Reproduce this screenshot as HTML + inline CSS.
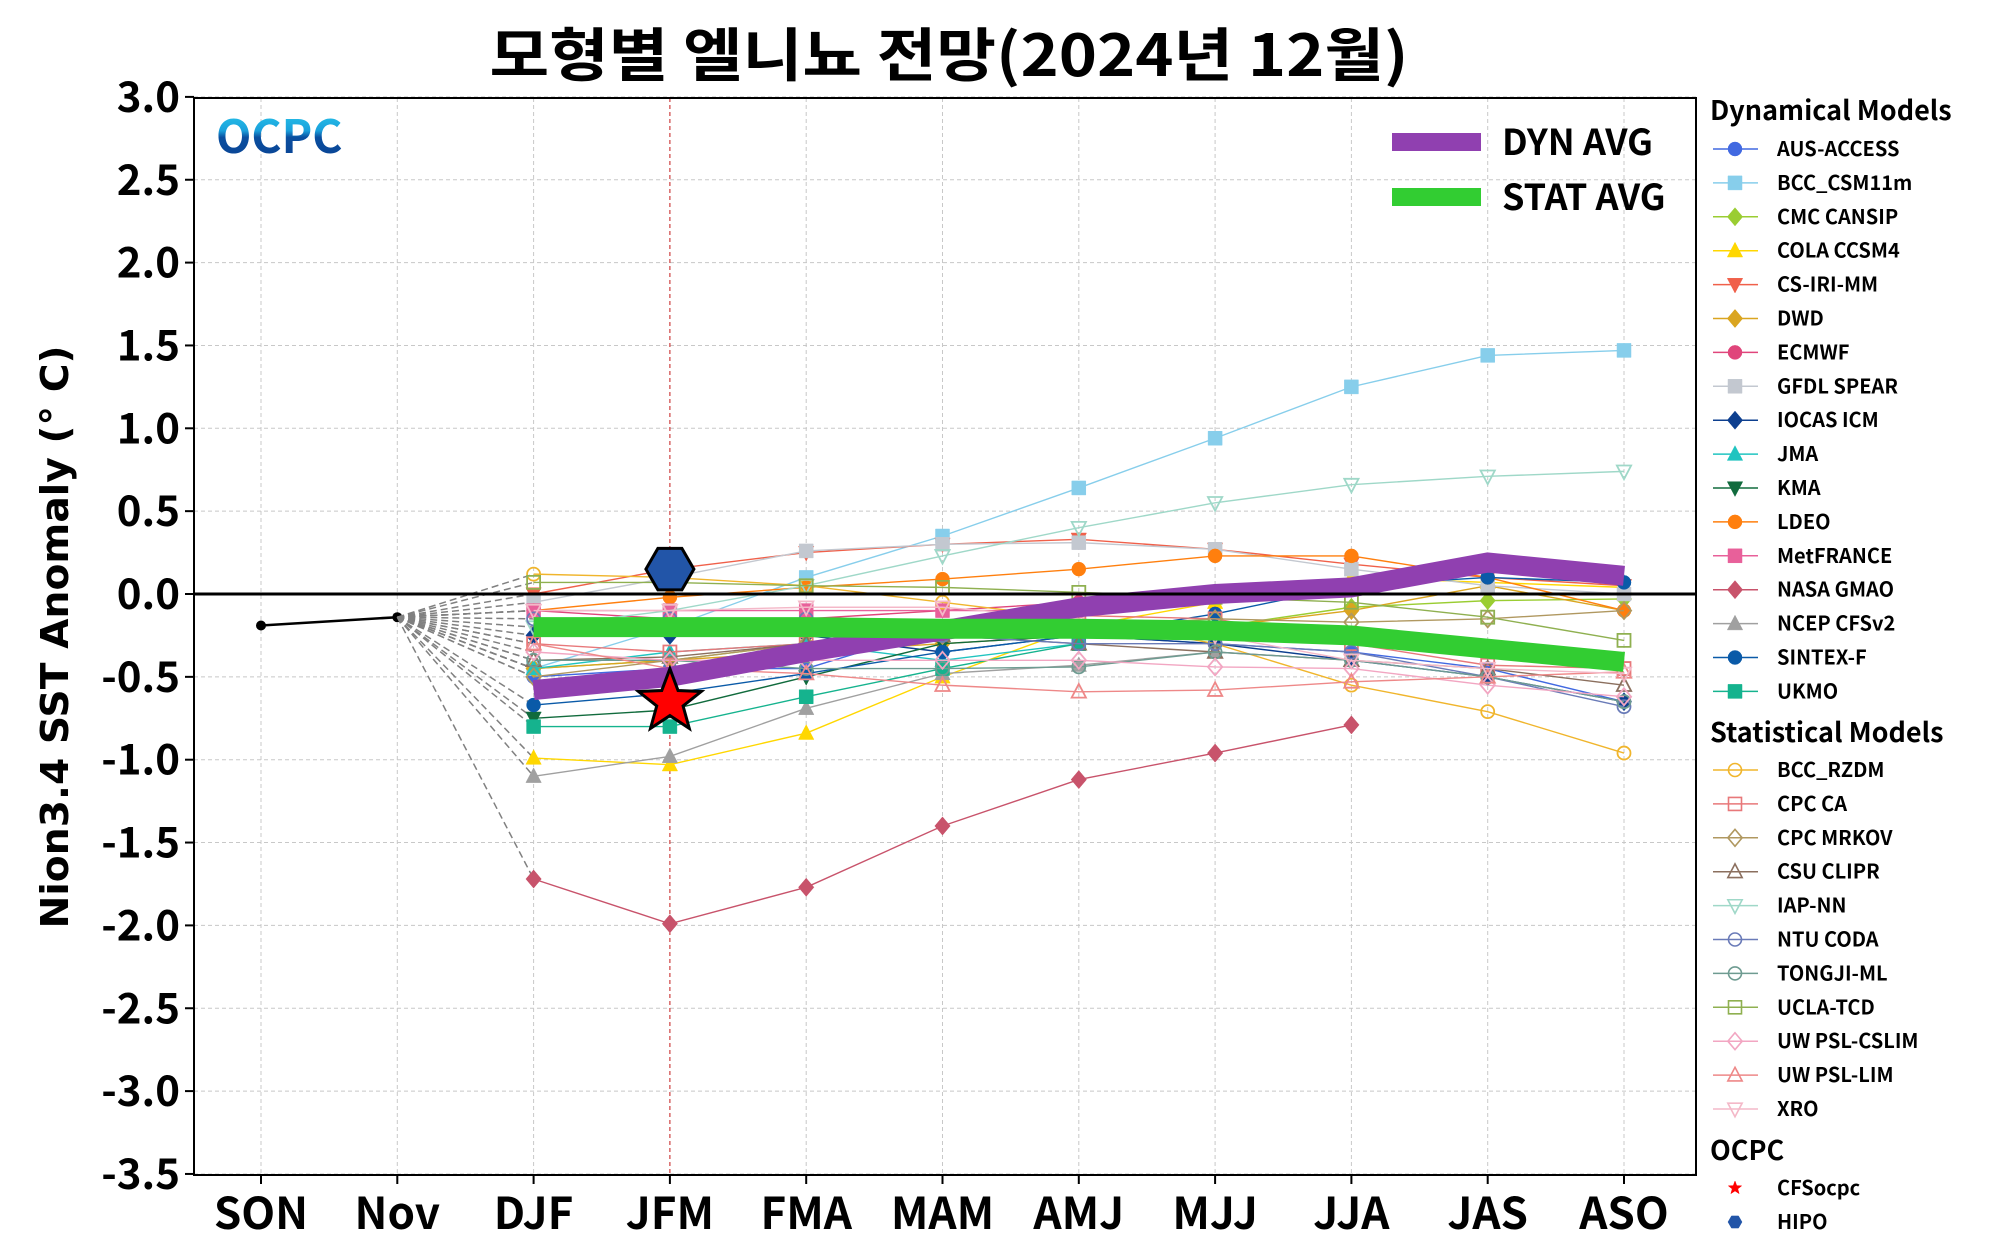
<!DOCTYPE html>
<html><head><meta charset="utf-8"><style>
html,body{margin:0;padding:0;background:#fff;}
svg{display:block;font-family:"Noto Sans CJK KR","Liberation Sans",sans-serif;}
</style></head><body>
<svg id="chart" width="2000" height="1253" viewBox="0 0 2000 1253" xmlns="http://www.w3.org/2000/svg">
<defs>
<linearGradient id="logoGrad" x1="0" y1="0" x2="0" y2="1">
<stop offset="0" stop-color="#30d8f0"/><stop offset="0.45" stop-color="#1aa0dc"/><stop offset="0.55" stop-color="#0a4fa0"/><stop offset="1" stop-color="#0a3f8f"/>
</linearGradient>
</defs>
<text x="949" y="76" text-anchor="middle" font-size="58" font-weight="bold" textLength="919" lengthAdjust="spacingAndGlyphs">모형별 엘니뇨 전망(2024년 12월)</text>
<text transform="translate(68,637) rotate(-90)" text-anchor="middle" font-size="38" font-weight="bold" font-family="DejaVu Sans, sans-serif" textLength="583" lengthAdjust="spacingAndGlyphs">Nion3.4 SST Anomaly (° C)</text>
<g id="grid"></g>
<g id="plot"></g>
<rect x="194" y="98" width="1502" height="1077" fill="none" stroke="#000" stroke-width="2"/>
<g id="axes"></g>
<text x="216" y="153" font-size="46" font-weight="bold" fill="url(#logoGrad)">OCPC</text>
<g id="avg-legend"></g>
<g id="legend"></g>
</svg>
<script>
const seasons = ["SON","Nov","DJF","JFM","FMA","MAM","AMJ","MJJ","JJA","JAS","ASO"];
const yTicks = [3.0,2.5,2.0,1.5,1.0,0.5,0.0,-0.5,-1.0,-1.5,-2.0,-2.5,-3.0,-3.5];
const observed = [-0.19,-0.14];
const dynNames = ["AUS-ACCESS","BCC_CSM11m","CMC CANSIP","COLA CCSM4","CS-IRI-MM","DWD","ECMWF","GFDL SPEAR","IOCAS ICM","JMA","KMA","LDEO","MetFRANCE","NASA GMAO","NCEP CFSv2","SINTEX-F","UKMO"];
const ausAccess = [-0.5,-0.45,-0.45,-0.2,-0.25,-0.3,-0.35,-0.45,-0.65];
const bccCsm = [-0.45,-0.2,0.1,0.35,0.64,0.94,1.25,1.44,1.47];
const cmcCansip = [-0.45,-0.4,-0.3,-0.25,-0.2,-0.2,-0.08,-0.04,-0.03];
const colaCcsm4 = [-0.99,-1.03,-0.84,-0.5,-0.2,-0.05,0.1,0.07,0.04];
const csIriMm = [0.0,0.15,0.25,0.3,0.33,0.27,0.18,0.1,0.05];
const dwd = [-0.45,-0.4,-0.35,-0.3,-0.25,-0.2,-0.1,0.05,-0.1];
const ecmwf = [-0.1,-0.15,-0.15,-0.1,-0.05,null,null,null,null];
const gfdlSpear = [-0.05,0.1,0.26,0.3,0.31,0.27,0.15,0.05,0.0];
const iocasIcm = [-0.25,-0.25,-0.25,-0.35,-0.25,-0.3,-0.4,-0.5,-0.65];
const jma = [-0.45,-0.35,-0.3,-0.4,-0.3,null,null,null,null];
const kma = [-0.75,-0.7,-0.5,-0.3,-0.25,-0.2,null,null,null];
const ldeo = [-0.1,-0.02,0.04,0.09,0.15,0.23,0.23,0.1,-0.1];
const metFrance = [-0.1,-0.1,-0.1,-0.1,-0.1,null,null,null,null];
const nasaGmao = [-1.72,-1.99,-1.77,-1.4,-1.12,-0.96,-0.79,null,null];
const ncepCfs = [-1.1,-0.98,-0.69,-0.48,-0.43,-0.35,null,null,null];
const sintexF = [-0.67,-0.6,-0.48,-0.35,-0.25,-0.12,0.05,0.1,0.07];
const ukmo = [-0.8,-0.8,-0.62,-0.45,-0.3,null,null,null,null];
const statNames = ["BCC_RZDM","CPC CA","CPC MRKOV","CSU CLIPR","IAP-NN","NTU CODA","TONGJI-ML","UCLA-TCD","UW PSL-CSLIM","UW PSL-LIM","XRO"];
const bccRzdm = [0.12,0.1,0.05,-0.05,-0.15,-0.3,-0.55,-0.71,-0.96];
const cpcCa = [-0.3,-0.35,-0.3,-0.2,-0.13,-0.15,-0.3,-0.43,-0.45];
const cpcMrkov = [-0.5,-0.4,-0.3,-0.25,-0.2,-0.15,-0.17,-0.15,-0.1];
const csuClipr = [-0.4,-0.38,-0.3,-0.25,-0.3,-0.35,-0.4,-0.45,-0.55];
const iapNn = [-0.2,-0.1,0.05,0.23,0.4,0.55,0.66,0.71,0.74];
const ntuCoda = [-0.15,-0.15,-0.15,-0.25,-0.3,-0.3,-0.35,-0.5,-0.68];
const tongjiMl = [-0.4,-0.4,-0.45,-0.45,-0.44,-0.35,-0.4,-0.5,-0.65];
const uclaTcd = [0.07,0.07,0.05,0.04,0.01,-0.02,-0.05,-0.14,-0.28];
const uwCslim = [-0.35,-0.4,-0.4,-0.4,-0.4,-0.44,-0.45,-0.55,-0.62];
const uwLim = [-0.3,-0.45,-0.48,-0.55,-0.59,-0.58,-0.53,-0.5,-0.47];
const xro = [-0.1,-0.1,-0.08,-0.08,-0.15,-0.25,-0.4,-0.45,-0.48];
const dynAvg = [-0.58,-0.5,-0.35,-0.22,-0.08,0.0,0.04,0.19,0.11];
const statAvg = [-0.2,-0.2,-0.2,-0.21,-0.21,-0.22,-0.25,-0.33,-0.41];
const cfsOcpc = [-0.65];
const hipo = [0.15];

const NS="http://www.w3.org/2000/svg";
function xS(i){return 261+i*136.3;}
function yS(v){return 594-v*165.7;}
function mk(tag,attrs,parent){const e=document.createElementNS(NS,tag);for(const k in attrs)e.setAttribute(k,attrs[k]);parent.appendChild(e);return e;}
const grid=document.getElementById('grid'),plot=document.getElementById('plot'),axes=document.getElementById('axes');

seasons.forEach((s,i)=>{
  const g=mk('line',{x1:xS(i),x2:xS(i),y1:98,y2:1175,stroke:'#c8c8c8','stroke-width':1,'stroke-dasharray':'4,3'},grid);
  
  
  const t=mk('line',{x1:xS(i),x2:xS(i),y1:1175,y2:1184,stroke:'#000','stroke-width':2},axes);
  
  
  const l=mk('text',{x:xS(i),y:1229,'text-anchor':'middle','font-size':44,'font-weight':'bold'},axes);
  l.textContent=s;
  
  
});
yTicks.forEach(v=>{
  const g=mk('line',{x1:194,x2:1696,y1:yS(v),y2:yS(v),stroke:'#c8c8c8','stroke-width':1,'stroke-dasharray':'4,3'},grid);
  
  
  const t=mk('line',{x1:185,x2:194,y1:yS(v),y2:yS(v),stroke:'#000','stroke-width':2},axes);
  
  
  const l=mk('text',{x:180,y:yS(v)+15,'text-anchor':'end','font-size':42,'font-weight':'bold'},axes);
  l.textContent=v.toFixed(1);
  
  
});
const jl=mk('line',{x1:xS(3),x2:xS(3),y1:98,y2:1175,stroke:'#cc2222','stroke-width':1,'stroke-dasharray':'4,3'},grid);



function marker(shape,cx,cy,r,fill,stroke,sw,parent){
  let e;
  if(shape==='o') e=mk('circle',{cx:cx,cy:cy,r:r},parent);
  else {
    let pts;
    if(shape==='s') pts=[[-r,-r],[r,-r],[r,r],[-r,r]];
    else if(shape==='D') pts=[[0,-r*1.3],[r*1.1,0],[0,r*1.3],[-r*1.1,0]];
    else if(shape==='^') pts=[[0,-r*1.2],[r*1.1,r*0.9],[-r*1.1,r*0.9]];
    else if(shape==='v') pts=[[0,r*1.2],[r*1.1,-r*0.9],[-r*1.1,-r*0.9]];
    else if(shape==='h'){pts=[];for(let k=0;k<6;k++){const a=Math.PI/3*k;pts.push([r*Math.cos(a),r*Math.sin(a)]);}}
    else if(shape==='*'){pts=[];for(let k=0;k<10;k++){const a=-Math.PI/2+Math.PI/5*k;const rr=k%2?r*0.42:r;pts.push([rr*Math.cos(a),rr*Math.sin(a)]);}}
    e=mk('polygon',{points:pts.map(p=>(cx+p[0])+','+(cy+p[1])).join(' ')},parent);
  }
  e.setAttribute('fill',fill);e.setAttribute('stroke',stroke);e.setAttribute('stroke-width',sw);
  return e;
}

const dynSeries=[
 [ausAccess,'#4169e1','o'],[bccCsm,'#87ceeb','s'],[cmcCansip,'#9acd32','D'],[colaCcsm4,'#ffd700','^'],
 [csIriMm,'#f0604a','v'],[dwd,'#daa520','D'],[ecmwf,'#e0457b','o'],[gfdlSpear,'#c3c8d0','s'],
 [iocasIcm,'#0d3f8f','D'],[jma,'#20c4c0','^'],[kma,'#116b3d','v'],[ldeo,'#ff7f0e','o'],
 [metFrance,'#e8609a','s'],[nasaGmao,'#c8536b','D'],[ncepCfs,'#a0a0a0','^'],[sintexF,'#0a5aa8','o'],[ukmo,'#15b38e','s']];
const statSeries=[
 [bccRzdm,'#f0b52c','o'],[cpcCa,'#e8787a','s'],[cpcMrkov,'#b09860','D'],[csuClipr,'#8b6f5e','^'],
 [iapNn,'#9fd8c8','v'],[ntuCoda,'#6a7bb8','o'],[tongjiMl,'#6e9b91','o'],[uclaTcd,'#8fb050','s'],
 [uwCslim,'#f2a6c2','D'],[uwLim,'#ee8888','^'],[xro,'#f4b8c8','v']];

const ob=mk('polyline',{points:observed.map((v,i)=>xS(i)+','+yS(v)).join(' '),fill:'none',stroke:'#000','stroke-width':2.5},plot);


observed.forEach((v,i)=>{const c=mk('circle',{cx:xS(i),cy:yS(v),r:5,fill:'#000'},plot);

});

[...dynSeries,...statSeries].forEach(s=>{
  if(s[0][0]==null)return;
  const d=mk('line',{x1:xS(1),y1:yS(observed[1]),x2:xS(2),y2:yS(s[0][0]),stroke:'#808080','stroke-width':1.5,'stroke-dasharray':'7,4'},plot);
  
  
});

function drawSeries(arr,color,shape,open,name){
  const pts=[];arr.forEach((v,i)=>{if(v!=null)pts.push(xS(i+2)+','+yS(v));});
  const p=mk('polyline',{points:pts.join(' '),fill:'none',stroke:color,'stroke-width':1.4},plot);
  
  
  arr.forEach((v,i)=>{if(v==null)return;
    const m=marker(shape,xS(i+2),yS(v),open?6.5:7,open?'none':color,color,open?1.8:0.5,plot);
    
    });
}
dynSeries.forEach((s,k)=>drawSeries(s[0],s[1],s[2],false,dynNames[k].toLowerCase().replace(/[^a-z0-9]+/g,'-')));
statSeries.forEach((s,k)=>drawSeries(s[0],s[1],s[2],true,statNames[k].toLowerCase().replace(/[^a-z0-9]+/g,'-')));

const dl=mk('polyline',{points:dynAvg.map((v,i)=>xS(i+2)+','+yS(v)).join(' '),fill:'none',stroke:'#9040b0','stroke-width':20},plot);


const sl=mk('polyline',{points:statAvg.map((v,i)=>xS(i+2)+','+yS(v)).join(' '),fill:'none',stroke:'#32cd32','stroke-width':20},plot);



const zl=mk('line',{x1:194,x2:1696,y1:yS(0),y2:yS(0),stroke:'#000','stroke-width':3},plot);



const hx=marker('h',xS(3),yS(hipo[0]),24,'#2255a8','#000',3,plot);


const st=marker('*',xS(3),yS(cfsOcpc[0]),33,'#ff0000','#000',3,plot);



const al=document.getElementById('avg-legend');
[['DYN AVG','#9040b0',142],['STAT AVG','#32cd32',197]].forEach(a=>{
  const l=mk('line',{x1:1392,x2:1481,y1:a[2],y2:a[2],stroke:a[1],'stroke-width':18},al);
  
  
  const t=mk('text',{x:1502,y:a[2]+13,'font-size':36,'font-weight':'bold'},al);
  t.textContent=a[0];
  
  
});

const lg=document.getElementById('legend');
function title(txt,y){const t=mk('text',{x:1710,y:y,'font-size':27,'font-weight':'bold'},lg);t.textContent=txt;

}
function entry(txt,y,color,shape,open,noline){
  if(!noline){const l=mk('line',{x1:1713,x2:1758,y1:y,y2:y,stroke:color,'stroke-width':1.5},lg);
  
  }
  const m=marker(shape,1735,y,open?6.5:7,open?'none':color,color,open?1.6:0.5,lg);
  
  
  const t=mk('text',{x:1777,y:y+7,'font-size':20,'font-weight':'bold'},lg);t.textContent=txt;
  
  
}
title('Dynamical Models',120);
dynSeries.forEach((s,k)=>entry(dynNames[k],149+k*33.9,s[1],s[2],false));
title('Statistical Models',742);
statSeries.forEach((s,k)=>entry(statNames[k],770+k*33.9,s[1],s[2],true));
title('OCPC',1160);
entry('CFSocpc',1188,'#ff0000','*',false,true);
entry('HIPO',1222,'#2255a8','h',false,true);
</script>
</body></html>
